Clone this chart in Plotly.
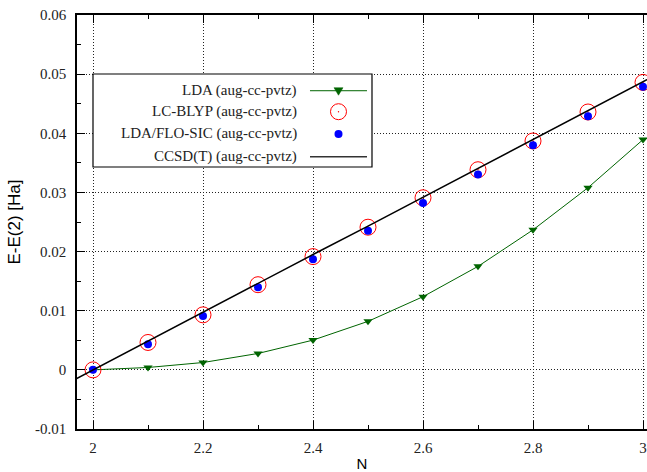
import plotly.graph_objects as go

# Data
N = [2.0, 2.1, 2.2, 2.3, 2.4, 2.5, 2.6, 2.7, 2.8, 2.9, 3.0]
lda = [0.0, 0.0004, 0.00124, 0.00277, 0.00503, 0.0082, 0.01237, 0.0175, 0.02367, 0.0308, 0.03893]
lc_blyp = [0.0, 0.00463, 0.0093, 0.0144, 0.01915, 0.02412, 0.0291, 0.03384, 0.0387, 0.0436, 0.0486]
flo_sic = [0.0, 0.00435, 0.0091, 0.01395, 0.0187, 0.0235, 0.0282, 0.03305, 0.03797, 0.0429, 0.04785]
N_ccsd = [1.9, 2.0, 2.1, 2.2, 2.3, 2.4, 2.5, 2.6, 2.7, 2.8, 2.9, 3.0, 3.1]
ccsd = [-0.0049, 0.0, 0.0048, 0.0097, 0.0146, 0.0195, 0.0243, 0.0292, 0.0341, 0.0390, 0.0438, 0.0487, 0.0536]

series_names = ["LDA (aug-cc-pvtz)", "LC-BLYP (aug-cc-pvtz)",
                "LDA/FLO-SIC (aug-cc-pvtz)", "CCSD(T) (aug-cc-pvtz)"]

xtick_vals = [2.0, 2.2, 2.4, 2.6, 2.8, 3.0]
xtick_text = ["2", "2.2", "2.4", "2.6", "2.8", "3"]
ytick_vals = [-0.01, 0.0, 0.01, 0.02, 0.03, 0.04, 0.05, 0.06]
ytick_text = ["-0.01", "0", "0.01", "0.02", "0.03", "0.04", "0.05", "0.06"]

SERIF = "Liberation Serif, Times New Roman, serif"
SANS = "Liberation Sans, Arial, sans-serif"
GREEN = "#006400"

fig = go.Figure()
fig.add_trace(go.Scatter(
    x=N, y=lda, mode="lines+markers", name=series_names[0],
    line=dict(color=GREEN, width=1),
    marker=dict(symbol="triangle-down", size=8, color=GREEN),
))
fig.add_trace(go.Scatter(
    x=N, y=lc_blyp, mode="markers", name=series_names[1],
    marker=dict(symbol="circle-open-dot", size=16, color="red", line=dict(width=1, color="red")),
))
fig.add_trace(go.Scatter(
    x=N, y=flo_sic, mode="markers", name=series_names[2],
    marker=dict(symbol="circle", size=8, color="blue"),
))
fig.add_trace(go.Scatter(
    x=N_ccsd, y=ccsd, mode="lines", name=series_names[3],
    line=dict(color="black", width=1.5),
))

# ---- gnuplot-style key: text right-aligned, sample on the right ----
box = dict(x0=0.02807, x1=0.51754, y0=0.63285, y1=0.85749)
rows_y = [0.8171, 0.7664, 0.7126, 0.6577]
text_right = 0.38947
samp_x0, samp_x1, samp_c = 0.40877, 0.50877, 0.45877

shapes = [dict(type="rect", xref="paper", yref="paper", layer="above",
               fillcolor="white", line=dict(color="black", width=1.2), **box)]
# LDA sample: line + triangle
shapes.append(dict(type="line", xref="paper", yref="paper", layer="above",
                   x0=samp_x0, x1=samp_x1, y0=rows_y[0], y1=rows_y[0],
                   line=dict(color=GREEN, width=1)))
shapes.append(dict(type="path", xref="paper", yref="paper", layer="above",
                   xsizemode="pixel", ysizemode="pixel", xanchor=samp_c, yanchor=rows_y[0],
                   path="M -4.5,3 L 4.5,3 L 0,-4.5 Z", fillcolor=GREEN, line=dict(color=GREEN, width=0.5)))
# LC-BLYP sample: open circle with dot
shapes.append(dict(type="circle", xref="paper", yref="paper", layer="above",
                   xsizemode="pixel", ysizemode="pixel", xanchor=samp_c, yanchor=rows_y[1],
                   x0=-8, x1=8, y0=-8, y1=8, line=dict(color="red", width=1)))
shapes.append(dict(type="circle", xref="paper", yref="paper", layer="above",
                   xsizemode="pixel", ysizemode="pixel", xanchor=samp_c, yanchor=rows_y[1],
                   x0=-0.7, x1=0.7, y0=-0.7, y1=0.7, fillcolor="red", line=dict(color="red", width=0)))
# FLO-SIC sample: filled blue circle
shapes.append(dict(type="circle", xref="paper", yref="paper", layer="above",
                   xsizemode="pixel", ysizemode="pixel", xanchor=samp_c, yanchor=rows_y[2],
                   x0=-4, x1=4, y0=-4, y1=4, fillcolor="blue", line=dict(color="blue", width=0)))
# CCSD(T) sample: black line
shapes.append(dict(type="line", xref="paper", yref="paper", layer="above",
                   x0=samp_x0, x1=samp_x1, y0=rows_y[3], y1=rows_y[3],
                   line=dict(color="#333", width=1.5)))

annotations = [dict(text=name, xref="paper", yref="paper", x=text_right, y=yy,
                    xanchor="right", yanchor="middle", showarrow=False,
                    font=dict(family=SERIF, size=15, color="#222"))
               for name, yy in zip(series_names, rows_y)]

axis_common = dict(
    ticks="inside", ticklen=8, tickwidth=1, tickcolor="black",
    showline=True, linecolor="black", linewidth=1.5,
    showgrid=True, gridcolor="#222", griddash="1px,2px", gridwidth=1,
    zeroline=False, automargin=False,
    tickfont=dict(family=SERIF, size=15, color="#222"),
)

fig.update_layout(
    width=647, height=472,
    margin=dict(l=77, r=0, t=15, b=43),
    plot_bgcolor="white", paper_bgcolor="white",
    showlegend=False,
    shapes=shapes,
    annotations=annotations,
    xaxis=dict(
        range=[1.97091, 3.00727],
        tickvals=xtick_vals, ticktext=xtick_text,
        mirror="ticks",
        minor=dict(dtick=0.1, tick0=2.0, ticks="inside", ticklen=4, tickcolor="black", showgrid=False),
        title=dict(text="N", font=dict(family=SANS, size=15, color="black"), standoff=9),
        ticklabelstandoff=4,
        **axis_common,
    ),
    yaxis=dict(
        range=[-0.01, 0.06],
        tickvals=ytick_vals, ticktext=ytick_text,
        minor=dict(dtick=0.005, tick0=0.0, ticks="inside", ticklen=4, tickcolor="black", showgrid=False),
        title=dict(text="E-E(2) [Ha]", font=dict(family=SANS, size=17, color="black"), standoff=10),
        ticklabelstandoff=6,
        **axis_common,
    ),
)

fig.write_html("out.html")
